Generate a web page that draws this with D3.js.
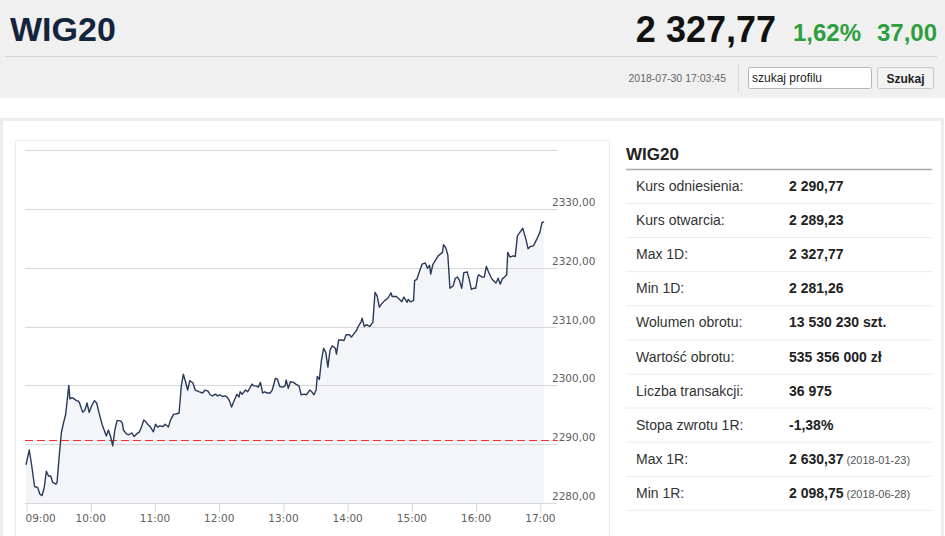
<!DOCTYPE html>
<html>
<head>
<meta charset="utf-8">
<script src="https://cdn.jsdelivr.net/npm/d3@7"></script>
<style>
  html, body { margin: 0; padding: 0; background: #fff; }
  svg { display: block; }
</style>
</head>
<body>
<div id="page"></div>
<script>
// intraday WIG20, 2018-07-30
var times = [
  "09:00","09:03","09:05","09:08","09:11","09:13","09:15","09:17","09:19","09:21",
  "09:23","09:25","09:28","09:29","09:31","09:33","09:35","09:37","09:40","09:41",
  "09:43","09:45","09:47","09:49","09:50","09:53","09:55","09:57","09:59","10:01",
  "10:04","10:06","10:08","10:11","10:13","10:15","10:17","10:19","10:21","10:23",
  "10:25","10:28","10:30","10:31","10:34","10:36","10:39","10:41","10:43","10:46",
  "10:48","10:50","10:52","10:54","10:56","10:59","11:01","11:03","11:05","11:08",
  "11:10","11:13","11:15","11:18","11:20","11:23","11:25","11:27","11:29","11:31",
  "11:33","11:36","11:38","11:42","11:45","11:47","11:50","11:52","11:54","11:57",
  "11:59","12:01","12:04","12:06","12:08","12:10","12:12","12:14","12:17","12:19",
  "12:20","12:22","12:25","12:27","12:29","12:31","12:33","12:35","12:37","12:39",
  "12:41","12:43","12:45","12:48","12:50","12:53","12:55","12:57","13:00","13:02",
  "13:03","13:05","13:07","13:10","13:12","13:15","13:17","13:20","13:22","13:25",
  "13:27","13:29","13:31","13:32","13:34","13:36","13:38","13:40","13:42","13:44",
  "13:46","13:49","13:50","13:52","13:55","13:57","13:59","14:02","14:04","14:06",
  "14:09","14:10","14:13","14:14","14:16","14:18","14:21","14:24","14:26","14:28",
  "14:30","14:32","14:35","14:38","14:41","14:42","14:46","14:49","14:51","14:53",
  "14:56","14:57","14:59","15:02","15:03","15:05","15:08","15:10","15:13","15:15",
  "15:17","15:18","15:20","15:23","15:25","15:27","15:29","15:30","15:32","15:34",
  "15:36","15:39","15:41","15:43","15:45","15:47","15:49","15:51","15:52","15:54",
  "15:56","15:58","16:00","16:02","16:03","16:06","16:08","16:10","16:12","16:14",
  "16:16","16:19","16:21","16:23","16:25","16:27","16:29","16:30","16:32","16:35",
  "16:37","16:39","16:41","16:44","16:47","16:49","16:51","16:54","16:57","17:00",
  "17:02","17:04"
];
var prices = [
  2286.5,2289.0,2286.8,2282.8,2282.6,2281.5,2281.26,2282.6,2285.4,2284.6,
  2284.6,2283.5,2283.2,2283.5,2287.9,2291.9,2293.6,2295.0,2300.0,2297.7,
  2297.9,2297.7,2297.4,2297.3,2297.0,2295.4,2295.8,2297.0,2295.4,2296.4,
  2297.4,2297.0,2295.5,2293.4,2292.4,2291.4,2292.4,2291.3,2289.7,2292.4,
  2294.0,2294.0,2293.6,2292.4,2291.7,2291.6,2291.9,2291.3,2291.7,2292.1,
  2293.0,2294.1,2293.8,2293.3,2293.0,2292.1,2293.4,2292.9,2293.1,2293.0,
  2293.4,2292.9,2294.1,2295.1,2295.1,2295.3,2299.8,2301.9,2300.6,2299.2,
  2300.8,2300.4,2299.2,2298.9,2298.7,2299.2,2299.0,2298.4,2298.2,2298.5,
  2298.2,2298.4,2298.1,2298.2,2298.0,2297.4,2296.3,2297.2,2298.5,2298.0,
  2298.9,2298.5,2299.2,2298.9,2299.5,2300.2,2299.9,2299.9,2299.7,2300.5,
  2298.7,2298.9,2298.7,2298.7,2299.2,2301.2,2301.0,2299.8,2299.7,2299.9,
  2300.9,2299.5,2300.6,2300.5,2300.2,2299.9,2298.4,2298.5,2298.4,2299.2,
  2298.9,2298.4,2299.2,2301.5,2301.0,2304.3,2306.3,2305.6,2303.1,2306.0,
  2306.7,2306.3,2305.3,2307.7,2307.7,2307.6,2308.6,2308.6,2308.2,2308.7,
  2309.4,2309.9,2310.8,2311.4,2310.0,2310.3,2310.0,2310.7,2315.8,2315.2,
  2313.3,2313.8,2314.4,2314.8,2315.7,2315.1,2315.1,2314.6,2314.2,2315.0,
  2314.1,2314.6,2314.2,2314.4,2317.8,2318.0,2319.6,2320.6,2320.8,2319.9,
  2320.4,2318.9,2320.5,2321.4,2322.0,2322.3,2322.6,2323.9,2323.4,2322.2,
  2316.5,2316.9,2318.2,2318.4,2317.8,2316.5,2319.2,2319.2,2319.3,2318.0,
  2316.3,2316.5,2316.5,2318.5,2318.8,2318.4,2318.4,2320.2,2319.3,2318.5,
  2317.9,2317.4,2318.2,2317.2,2318.1,2318.4,2318.8,2322.6,2321.8,2322.0,
  2321.9,2325.4,2325.9,2326.7,2324.8,2323.2,2323.6,2323.7,2324.8,2326.0,
  2327.7,2327.77
];
var refPrice = 2290.77;
var yTicks = [2280, 2290, 2300, 2310, 2320, 2330, 2340];
var xTicks = ["09:00","10:00","11:00","12:00","13:00","14:00","15:00","16:00","17:00"];

var statLabels = ["Kurs odniesienia:", "Kurs otwarcia:", "Max 1D:", "Min 1D:", "Wolumen obrotu:",
  "Wartość obrotu:", "Liczba transakcji:", "Stopa zwrotu 1R:", "Max 1R:", "Min 1R:"];
var statValues = ["2 290,77", "2 289,23", "2 327,77", "2 281,26", "13 530 230 szt.",
  "535 356 000 zł", "36 975", "-1,38%", "2 630,37", "2 098,75"];
var statDates = ["", "", "", "", "", "", "", "", "(2018-01-23)", "(2018-06-28)"];

var W = 945, H = 536;
var sans = "'Liberation Sans', Arial, sans-serif";
var axisFont = "'DejaVu Sans', Verdana, sans-serif";

var parse = d3.timeParse("%H:%M");
var data = times.map(function (t, i) { return { t: parse(t), v: prices[i] }; });

var svg = d3.select("#page").append("svg").attr("width", W).attr("height", H);

// header
svg.append("rect").attr("width", W).attr("height", 98).attr("fill", "#f0f0f0");
svg.append("line").attr("x1", 5).attr("x2", 937).attr("y1", 56.5).attr("y2", 56.5)
  .attr("stroke", "#d2d2d2");
svg.append("text").attr("x", 10).attr("y", 41).text("WIG20")
  .style("font-family", sans).style("font-weight", "bold").style("font-size", "34px")
  .attr("fill", "#13243d");
svg.append("text").attr("x", 776).attr("y", 42).attr("text-anchor", "end").text("2 327,77")
  .style("font-family", sans).style("font-weight", "bold").style("font-size", "36px")
  .attr("fill", "#111");
svg.append("text").attr("x", 793).attr("y", 41).text("1,62%")
  .style("font-family", sans).style("font-weight", "bold").style("font-size", "24px")
  .attr("fill", "#2e9e3e");
svg.append("text").attr("x", 937).attr("y", 41).attr("text-anchor", "end").text("37,00")
  .style("font-family", sans).style("font-weight", "bold").style("font-size", "24px")
  .attr("fill", "#2e9e3e");
svg.append("text").attr("x", 726).attr("y", 82).attr("text-anchor", "end").text("2018-07-30 17:03:45")
  .style("font-family", sans).style("font-size", "10.5px").attr("fill", "#666");
svg.append("line").attr("x1", 738.5).attr("x2", 738.5).attr("y1", 64).attr("y2", 93)
  .attr("stroke", "#dcdcdc");
svg.append("rect").attr("x", 748.5).attr("y", 67.5).attr("width", 123).attr("height", 21)
  .attr("fill", "#fff").attr("stroke", "#b5b5b5").attr("rx", 2);
svg.append("text").attr("x", 752).attr("y", 82).text("szukaj profilu")
  .style("font-family", sans).style("font-size", "12px").attr("fill", "#222");
svg.append("rect").attr("x", 877.5).attr("y", 67.5).attr("width", 56).attr("height", 21)
  .attr("fill", "#f2f2f2").attr("stroke", "#c8c8c8").attr("rx", 2);
svg.append("text").attr("x", 905.5).attr("y", 82.5).attr("text-anchor", "middle").text("Szukaj")
  .style("font-family", sans).style("font-weight", "bold").style("font-size", "12px")
  .attr("fill", "#222");

// panels
svg.append("rect").attr("x", 1.5).attr("y", 119.5).attr("width", 941).attr("height", 430)
  .attr("fill", "#fff").attr("stroke", "#ececec").attr("stroke-width", 3);
svg.append("rect").attr("x", 15.5).attr("y", 140.5).attr("width", 594).attr("height", 420)
  .attr("fill", "#fff").attr("stroke", "#ebebeb");

// chart
var x = d3.scaleTime().domain([parse("09:00"), parse("17:16")]).range([26, 557]);
var y = d3.scaleLinear().domain([2280, 2340]).range([503, 150]);
var comma = d3.formatLocale({ decimal: ",", thousands: " ", grouping: [3], currency: ["", ""] }).format(".2f");

var chart = svg.append("g");

chart.append("path").datum(data)
  .attr("d", d3.area().x(function (d) { return x(d.t); }).y0(y(2280)).y1(function (d) { return y(d.v); }))
  .attr("fill", "#f4f5f9");

chart.selectAll("line.grid").data(yTicks).enter().append("line")
  .attr("class", "grid")
  .attr("x1", 25).attr("x2", 557)
  .attr("y1", function (d) { return Math.round(y(d)) + 0.5; })
  .attr("y2", function (d) { return Math.round(y(d)) + 0.5; })
  .attr("stroke", "#d8d8d8");

chart.selectAll("text.ylab").data(yTicks.slice(0, -1)).enter().append("text")
  .attr("class", "ylab")
  .attr("x", 552).attr("y", function (d) { return y(d) - 3; })
  .text(function (d) { return comma(d); })
  .style("font-family", axisFont).style("font-size", "10.5px").attr("fill", "#606060");

var refY = Math.round(y(refPrice)) + 0.5;
chart.append("line")
  .attr("x1", 25).attr("x2", 557).attr("y1", refY).attr("y2", refY)
  .attr("stroke", "#ff2a2a").attr("stroke-width", 1).attr("stroke-dasharray", "8,4");

chart.append("path").datum(data)
  .attr("d", d3.line().x(function (d) { return x(d.t); }).y(function (d) { return y(d.v); }))
  .attr("fill", "none").attr("stroke", "#283a5a").attr("stroke-width", 1.4)
  .attr("stroke-linejoin", "round");

var xAxis = chart.append("g").attr("transform", "translate(0,503)")
  .call(d3.axisBottom(x).tickValues(xTicks.map(parse)).tickSize(9).tickPadding(3)
    .tickFormat(d3.timeFormat("%H:%M")));
xAxis.select(".domain").remove();
xAxis.selectAll(".tick line").attr("stroke", "#ccd6eb").attr("transform", "translate(0.5,0)");
xAxis.selectAll(".tick text")
  .style("font-family", axisFont).style("font-size", "10.5px").attr("fill", "#606060");
xAxis.select(".tick text").attr("text-anchor", "start").attr("dx", "-1");

// statistics table
var side = svg.append("g");
side.append("text").attr("x", 626).attr("y", 160).text("WIG20")
  .style("font-family", sans).style("font-weight", "bold").style("font-size", "17px")
  .attr("fill", "#222");
side.append("line").attr("x1", 626).attr("x2", 932).attr("y1", 169.5).attr("y2", 169.5)
  .attr("stroke", "#a8a8a8").attr("stroke-width", 1.5);

var rows = side.selectAll("g.row").data(statLabels).enter().append("g")
  .attr("class", "row")
  .attr("transform", function (d, i) { return "translate(0," + (170 + i * 34.1) + ")"; });
rows.append("line").attr("x1", 626).attr("x2", 932).attr("y1", 33.5).attr("y2", 33.5)
  .attr("stroke", "#ececec");
rows.append("text").attr("x", 636).attr("y", 21).text(function (d) { return d; })
  .style("font-family", sans).style("font-size", "14px").attr("fill", "#333");
rows.append("text").attr("x", 789).attr("y", 21)
  .each(function (d, i) {
    var t = d3.select(this);
    t.append("tspan").text(statValues[i])
      .style("font-weight", "bold").attr("fill", "#222");
    if (statDates[i]) {
      t.append("tspan").text(" " + statDates[i])
        .style("font-size", "11px").attr("fill", "#555");
    }
  })
  .style("font-family", sans).style("font-size", "14px");
</script>
</body>
</html>
